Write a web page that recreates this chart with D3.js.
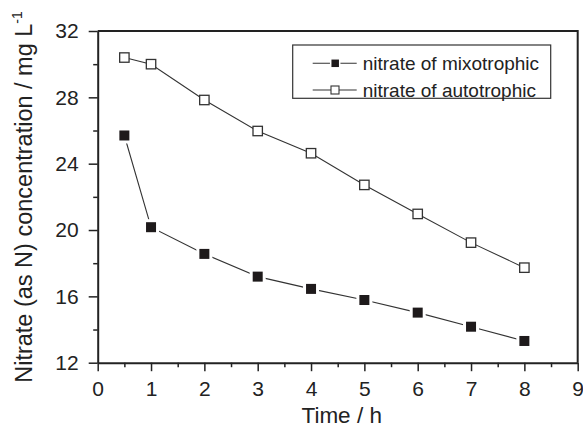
<!DOCTYPE html>
<html>
<head>
<meta charset="utf-8">
<script src="https://cdn.jsdelivr.net/npm/d3@7"></script>
<style>
  body { margin: 0; background: #fff; }
  svg { display: block; font-family: "Liberation Sans", Arial, sans-serif; }
  .axis path, .axis line { stroke: #222; }
  .axis text { fill: #222; }
</style>
</head>
<body>
<svg id="chart"></svg>
<script>
// data
const time = [0.5, 1, 2, 3, 4, 5, 6, 7, 8];
const mixotrophic = [25.7, 20.17, 18.56, 17.19, 16.45, 15.78, 15.02, 14.17, 13.31];
const autotrophic = [30.4, 30.0, 27.84, 25.97, 24.63, 22.72, 20.97, 19.24, 17.73];
const xTicks = [0, 1, 2, 3, 4, 5, 6, 7, 8, 9];
const yTicks = [12, 16, 20, 24, 28, 32];
const legendLabels = ['nitrate of mixotrophic', 'nitrate of autotrophic'];

class NitrateChart {
    constructor(_config) {
        this.config = {
            parentElement: _config.parentElement,
            containerWidth: 583,
            containerHeight: 429,
            margin: {top: 31, right: 5.3, bottom: 66.3, left: 97.7}
        };
        this.initVis();
    }

    initVis() {
        let vis = this;
        const m = vis.config.margin;
        vis.width = vis.config.containerWidth - m.left - m.right;
        vis.height = vis.config.containerHeight - m.top - m.bottom;

        vis.svg = d3.select(vis.config.parentElement)
            .attr('width', vis.config.containerWidth)
            .attr('height', vis.config.containerHeight);

        vis.chart = vis.svg.append('g')
            .attr('transform', `translate(${m.left},${m.top})`);

        vis.xScale = d3.scaleLinear().domain([0, 9]).range([0, vis.width]);
        vis.yScale = d3.scaleLinear().domain([12, 32]).range([vis.height, 0]);

        vis.renderVis();
    }

    renderVis() {
        let vis = this;

        // minor ticks first (no labels)
        vis.chart.append('g')
            .attr('class', 'axis')
            .attr('transform', `translate(0,${vis.height})`)
            .call(d3.axisBottom(vis.xScale).tickValues(d3.range(0.5, 9, 1)).tickSize(4.5).tickFormat(''))
            .call(g => g.select('.domain').remove());

        vis.chart.append('g')
            .attr('class', 'axis')
            .call(d3.axisLeft(vis.yScale).tickValues(d3.range(14, 32, 4)).tickSize(4.5).tickFormat(''))
            .call(g => g.select('.domain').remove());

        // major axes
        const xAxisG = vis.chart.append('g')
            .attr('class', 'axis')
            .attr('transform', `translate(0,${vis.height})`)
            .call(d3.axisBottom(vis.xScale).tickValues(xTicks).tickSize(8.5).tickSizeOuter(0).tickPadding(10));
        xAxisG.selectAll('text').attr('font-size', 21);

        const yAxisG = vis.chart.append('g')
            .attr('class', 'axis')
            .call(d3.axisLeft(vis.yScale).tickValues(yTicks).tickSize(9).tickSizeOuter(0).tickPadding(10));
        yAxisG.selectAll('text').attr('font-size', 21);

        vis.chart.selectAll('.axis .domain').attr('stroke-width', 2);
        vis.chart.selectAll('.axis line').attr('stroke-width', 1.5);

        // top and right frame
        vis.chart.append('path')
            .attr('d', `M0,0H${vis.width}V${vis.height}`)
            .attr('fill', 'none')
            .attr('stroke', '#222')
            .attr('stroke-width', 2);

        // axis titles
        vis.svg.append('text')
            .attr('x', vis.config.margin.left + vis.width / 2 + 4)
            .attr('y', 423)
            .attr('text-anchor', 'middle')
            .attr('font-size', 22.5)
            .attr('fill', '#222')
            .text('Time / h');

        const yTitle = vis.svg.append('text')
            .attr('transform', 'translate(31.5,197) rotate(-90)')
            .attr('text-anchor', 'middle')
            .attr('font-size', 23.5)
            .attr('fill', '#222');
        yTitle.append('tspan').text('Nitrate (as N) concentration / mg L');
        yTitle.append('tspan').attr('font-size', 14).attr('dy', -10).text('-1');

        const line = d3.line()
            .x(d => vis.xScale(d[0]))
            .y(d => vis.yScale(d[1]));

        const mixoData = d3.zip(time, mixotrophic);
        const autoData = d3.zip(time, autotrophic);

        vis.chart.append('path')
            .datum(autoData)
            .attr('d', line)
            .attr('fill', 'none')
            .attr('stroke', '#333')
            .attr('stroke-width', 1.1);

        vis.chart.append('path')
            .datum(mixoData)
            .attr('d', line)
            .attr('fill', 'none')
            .attr('stroke', '#333')
            .attr('stroke-width', 1.1);

        // white halo gives the little gap around the filled squares
        vis.chart.selectAll('.halo')
            .data(mixoData)
            .join('rect')
            .attr('class', 'halo')
            .attr('x', d => vis.xScale(d[0]) - 8)
            .attr('y', d => vis.yScale(d[1]) - 8)
            .attr('width', 16)
            .attr('height', 16)
            .attr('fill', '#fff');

        vis.chart.selectAll('.mixo')
            .data(mixoData)
            .join('rect')
            .attr('class', 'mixo')
            .attr('x', d => vis.xScale(d[0]) - 5)
            .attr('y', d => vis.yScale(d[1]) - 5)
            .attr('width', 10)
            .attr('height', 10)
            .attr('fill', '#1e1a1b');

        vis.chart.selectAll('.auto')
            .data(autoData)
            .join('rect')
            .attr('class', 'auto')
            .attr('x', d => vis.xScale(d[0]) - 4.7)
            .attr('y', d => vis.yScale(d[1]) - 4.7)
            .attr('width', 9.4)
            .attr('height', 9.4)
            .attr('fill', '#fff')
            .attr('stroke', '#333')
            .attr('stroke-width', 1.3);

        // legend
        const legend = vis.svg.append('g').attr('transform', 'translate(292.7,45)');
        legend.append('rect')
            .attr('width', 258)
            .attr('height', 53.3)
            .attr('fill', '#fff')
            .attr('stroke', '#333')
            .attr('stroke-width', 1.2);

        legendLabels.forEach((label, i) => {
            const row = legend.append('g').attr('transform', `translate(0,${18.3 + i * 26.7})`);
            row.append('line')
                .attr('x1', 20).attr('x2', 64)
                .attr('stroke', '#333').attr('stroke-width', 1.1);
            if (i === 0) {
                row.append('rect').attr('x', 38).attr('y', -4.5).attr('width', 9).attr('height', 9)
                    .attr('fill', '#1e1a1b').attr('stroke', '#fff').attr('stroke-width', 1.5);
            } else {
                row.append('rect').attr('x', 38.3).attr('y', -4).attr('width', 8).attr('height', 8)
                    .attr('fill', '#fff').attr('stroke', '#333').attr('stroke-width', 1.1);
            }
            row.append('text')
                .attr('x', 70)
                .attr('dy', '0.35em')
                .attr('font-size', 19)
                .attr('fill', '#222')
                .text(label);
        });
    }
}

new NitrateChart({parentElement: '#chart'});
</script>
</body>
</html>
